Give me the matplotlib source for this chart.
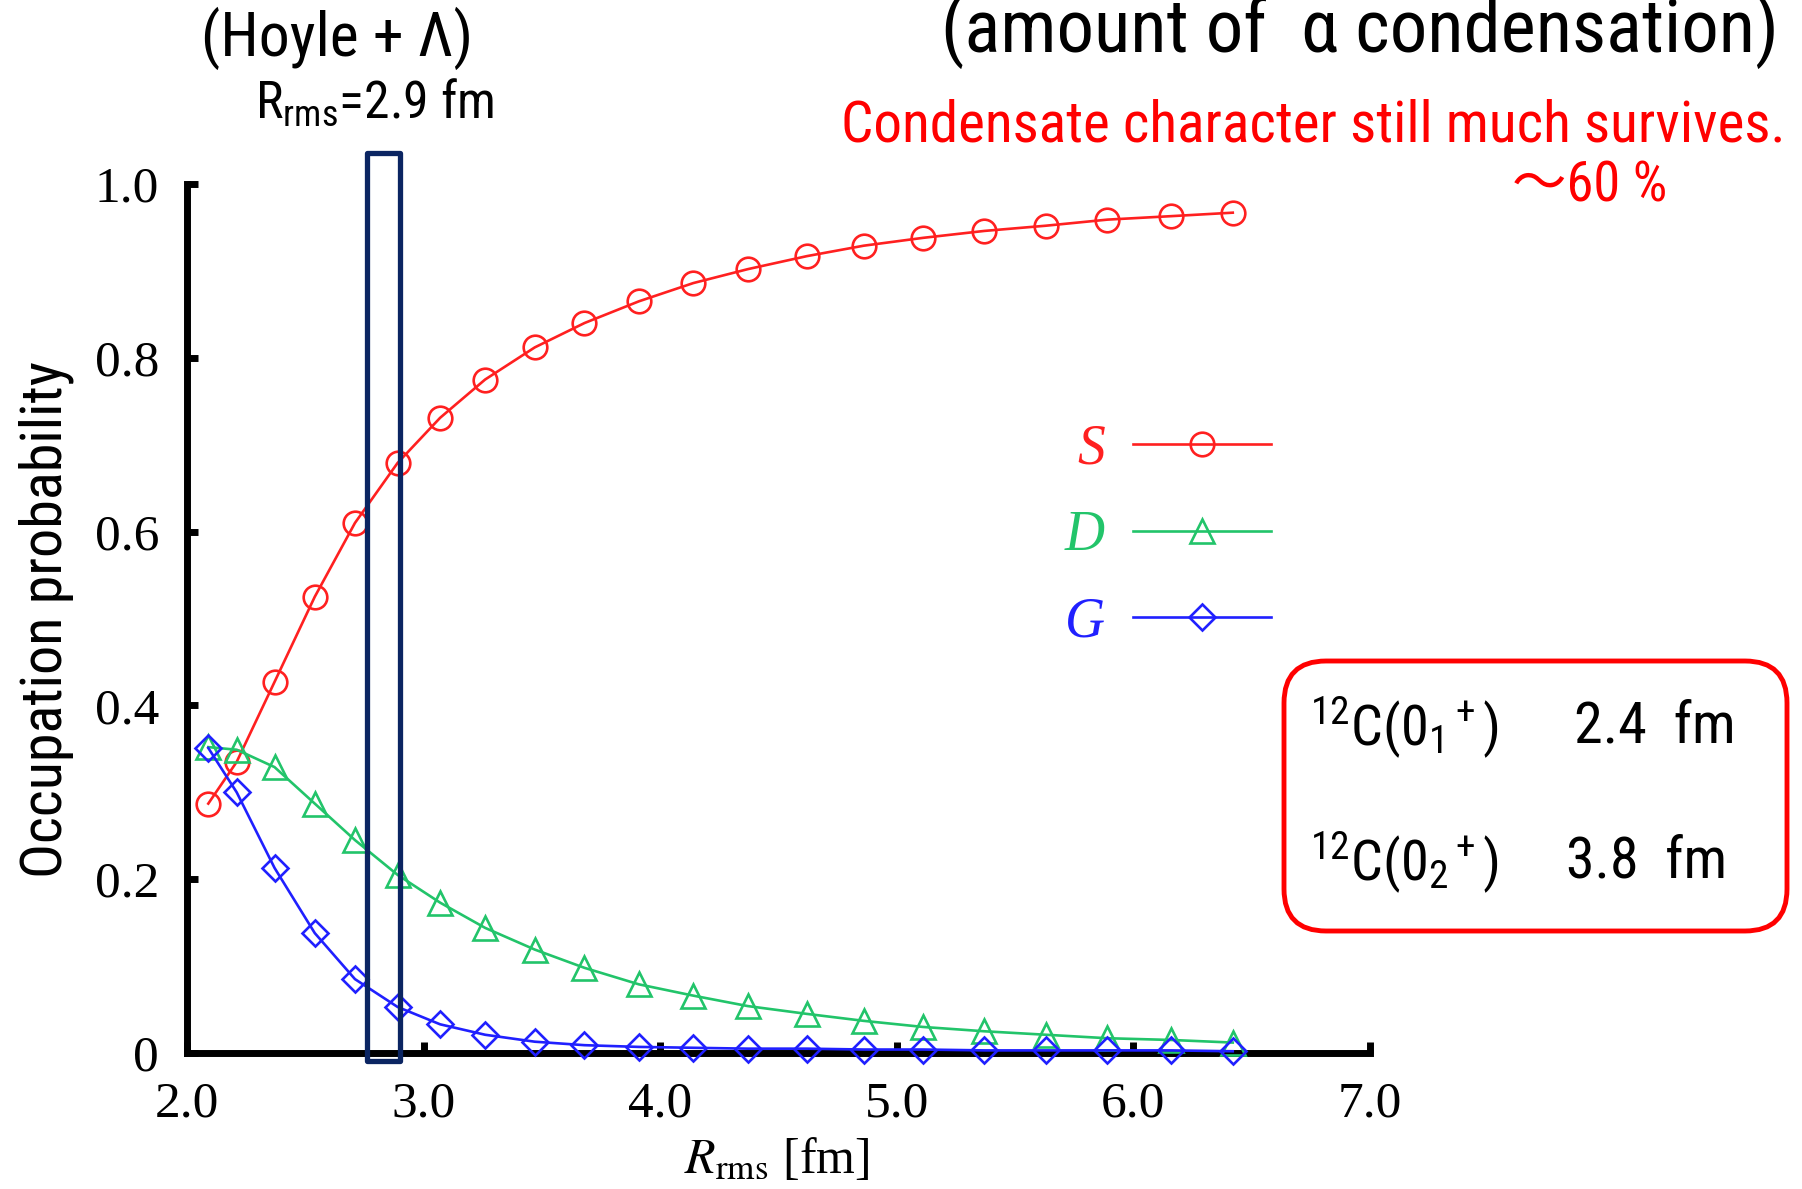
import matplotlib
matplotlib.use("Agg")
import matplotlib.pyplot as plt
from matplotlib import font_manager
from matplotlib.patches import Rectangle, FancyBboxPatch
from matplotlib.transforms import IdentityTransform

# ---------------- data ----------------
r_rms = [2.09, 2.21, 2.37, 2.54, 2.71, 2.89, 3.07, 3.26, 3.47, 3.68, 3.91,
         4.14, 4.37, 4.62, 4.86, 5.11, 5.37, 5.63, 5.89, 6.16, 6.42]
prob_S = [0.287, 0.335, 0.427, 0.525, 0.610, 0.679, 0.731, 0.775, 0.812, 0.840, 0.865,
          0.886, 0.902, 0.917, 0.929, 0.938, 0.946, 0.952, 0.959, 0.963, 0.967]
prob_D = [0.352, 0.349, 0.329, 0.287, 0.245, 0.205, 0.173, 0.144, 0.119, 0.098, 0.079,
          0.066, 0.054, 0.045, 0.037, 0.030, 0.025, 0.021, 0.017, 0.015, 0.012]
prob_G = [0.351, 0.300, 0.213, 0.138, 0.085, 0.053, 0.033, 0.021, 0.013, 0.009, 0.007,
          0.006, 0.005, 0.005, 0.004, 0.004, 0.003, 0.003, 0.003, 0.003, 0.002]
series_labels = ["S", "D", "G"]
x_ticks = [2.0, 3.0, 4.0, 5.0, 6.0, 7.0]
x_ticklabels = ["2.0", "3.0", "4.0", "5.0", "6.0", "7.0"]
y_ticks = [0.0, 0.2, 0.4, 0.6, 0.8, 1.0]
y_ticklabels = ["0", "0.2", "0.4", "0.6", "0.8", "1.0"]
highlight_x = [2.759, 2.902]   # highlighted R_rms window

# ---------------- fonts ----------------
names = {f.name for f in font_manager.fontManager.ttflist}
NARROW = "Liberation Sans"
for cand in ["Roboto Condensed", "Liberation Sans Narrow", "Archivo Narrow",
             "PT Sans Narrow", "IBM Plex Sans Condensed", "Open Sans Condensed"]:
    if cand in names:
        NARROW = cand
        break
SANS = [NARROW, "Noto Sans CJK JP", "DejaVu Sans"]
SERIF = ["Liberation Serif", "DejaVu Serif"]
plt.rcParams["mathtext.fontset"] = "custom"
plt.rcParams["mathtext.rm"] = NARROW
plt.rcParams["mathtext.it"] = NARROW
plt.rcParams["mathtext.bf"] = NARROW

W, H = 1802, 1189
fig = plt.figure(figsize=(W / 100, H / 100), dpi=100)
renderer = fig.canvas.get_renderer()

# axes placement (pixels)
x0, x1 = 187, 1370
y_top, y_bot = 184, 1053
ax = fig.add_axes([x0 / W, 1 - y_bot / H, (x1 - x0) / W, (y_bot - y_top) / H])
ax.set_xlim(2.0, 7.0)
ax.set_ylim(0.0, 1.0)

RED = "#ff2020"
GREEN = "#22c46a"
BLUE = "#2020ff"
NAVY = "#0b2562"

common = dict(lw=1.9, mew=1.9, mfc="none", clip_on=False, zorder=5)
ax.plot(r_rms, prob_S, "-o", color=RED, label=series_labels[0], ms=17, **common)
ax.plot(r_rms, prob_D, "-^", color=GREEN, label=series_labels[1], ms=17, **common)
ax.plot(r_rms, prob_G, "-D", color=BLUE, label=series_labels[2], ms=13, **common)

for s in ["top", "right"]:
    ax.spines[s].set_visible(False)
for s in ["left", "bottom"]:
    ax.spines[s].set_linewidth(5)
    ax.spines[s].set_capstyle("projecting")
ax.set_xticks(x_ticks)
ax.set_xticklabels(x_ticklabels)
ax.set_yticks(y_ticks)
ax.set_yticklabels(y_ticklabels)
ax.tick_params(direction="in", length=8, width=5, labelsize=37, pad=20)
for lab in ax.get_xticklabels() + ax.get_yticklabels():
    lab.set_fontfamily(SERIF)

# highlighted window
ax.add_patch(Rectangle((highlight_x[0], -0.009), highlight_x[1] - highlight_x[0], 1.045,
                       fill=False, ec=NAVY, lw=3.8, clip_on=False, zorder=6,
                       joinstyle="round"))

# legend
leg = ax.legend(loc="center", bbox_to_anchor=(1168 / W, 1 - 536 / H),
                bbox_transform=fig.transFigure, frameon=False, markerfirst=False,
                numpoints=1, handlelength=2.5, handletextpad=0.5, labelspacing=0.62,
                borderpad=0, prop=dict(family=SERIF, style="italic", size=40))
for t, c in zip(leg.get_texts(), [RED, GREEN, BLUE]):
    t.set_color(c)


def place(x, y, s, size_px, ha="center", va="center", dim="w", **kw):
    t = fig.text(x / W, 1 - y / H, s, ha=ha, va=va, fontsize=30, **kw)
    bb = t.get_window_extent(renderer)
    cur = bb.width if dim == "w" else bb.height
    t.set_fontsize(30 * size_px / cur)
    return t


# axis labels
place(46, 620, "Occupation probability", 517, rotation=90, dim="h", family=SANS)
place(777, 1161, r"$R_{\mathrm{rms}}$ [fm]", 186, family=SERIF, math_fontfamily="stix")

# annotations
place(337, 38, "(Hoyle + Λ)", 272, family=SANS)
place(374, 103, r"R$_{\mathrm{rms}}$=2.9 fm", 239, family=SANS)
place(1360, 52, "(amount of  α condensation)", 837, va="baseline", family=SANS)
place(1313, 126, "Condensate character still much survives.", 944, color="red", family=SANS)
place(1590, 186, "～60 %", 155, color="red", family=SANS)

# radius box
box = FancyBboxPatch((1284, H - 931), 1787 - 1284, 931 - 661,
                     boxstyle="round,pad=0,rounding_size=42", transform=IdentityTransform(),
                     fill=False, ec="red", lw=3.5)
fig.add_artist(box)
place(1405, 727, r"$^{12}$C(0$_1$$^+$)", 190, family=SANS)
place(1655, 727, "2.4  fm", 161, family=SANS)
place(1405, 862, r"$^{12}$C(0$_2$$^+$)", 190, family=SANS)
place(1647, 862, "3.8  fm", 161, family=SANS)

fig.savefig("out.png", dpi=100)
